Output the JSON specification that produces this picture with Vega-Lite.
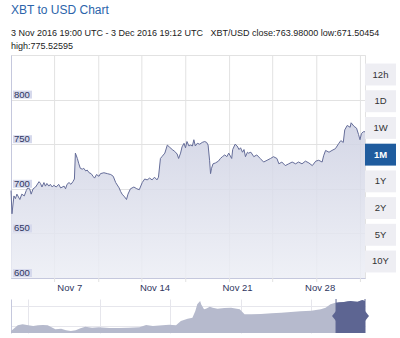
{
  "$schema": "https://vega.github.io/schema/vega-lite/v6.json",
  "padding": {"left": 8, "top": 4, "right": 0, "bottom": 0},
  "background": "#ffffff",
  "config": {"font": "Liberation Sans", "view": {"stroke": null}},
  "title": {
    "text": "XBT to USD Chart",
    "subtitle": ["3 Nov 2016 19:00 UTC - 3 Dec 2016 19:12 UTC\u00a0\u00a0\u00a0XBT/USD close:763.98000 low:671.50454", "high:775.52595"],
    "anchor": "start",
    "frame": "group",
    "fontSize": 12,
    "fontWeight": "normal",
    "color": "#2b64aa",
    "subtitleFontSize": 9,
    "subtitleColor": "#222222",
    "subtitleLineHeight": 12.5,
    "subtitlePadding": 12,
    "offset": 2.5
  },
  "spacing": 6,
  "datasets": {
    "main": [
      {"t": "2016-11-03T19:00Z", "v": 698},
      {"t": "2016-11-03T21:00Z", "v": 672},
      {"t": "2016-11-04T01:00Z", "v": 692},
      {"t": "2016-11-04T04:00Z", "v": 689},
      {"t": "2016-11-04T07:00Z", "v": 694},
      {"t": "2016-11-04T13:00Z", "v": 688},
      {"t": "2016-11-04T17:00Z", "v": 694},
      {"t": "2016-11-04T22:00Z", "v": 692},
      {"t": "2016-11-05T02:00Z", "v": 698},
      {"t": "2016-11-05T05:00Z", "v": 701},
      {"t": "2016-11-05T09:00Z", "v": 700},
      {"t": "2016-11-05T12:00Z", "v": 694},
      {"t": "2016-11-05T16:00Z", "v": 700},
      {"t": "2016-11-05T21:00Z", "v": 702},
      {"t": "2016-11-06T04:00Z", "v": 708},
      {"t": "2016-11-06T07:00Z", "v": 706},
      {"t": "2016-11-06T10:00Z", "v": 702},
      {"t": "2016-11-06T14:00Z", "v": 707},
      {"t": "2016-11-06T17:00Z", "v": 703},
      {"t": "2016-11-06T20:00Z", "v": 706},
      {"t": "2016-11-07T00:00Z", "v": 703},
      {"t": "2016-11-07T03:00Z", "v": 705},
      {"t": "2016-11-07T07:00Z", "v": 702},
      {"t": "2016-11-07T10:00Z", "v": 704},
      {"t": "2016-11-07T15:00Z", "v": 702},
      {"t": "2016-11-07T20:00Z", "v": 705},
      {"t": "2016-11-08T00:00Z", "v": 701},
      {"t": "2016-11-08T07:00Z", "v": 703},
      {"t": "2016-11-08T10:00Z", "v": 700},
      {"t": "2016-11-08T13:00Z", "v": 705},
      {"t": "2016-11-08T17:00Z", "v": 707},
      {"t": "2016-11-08T21:00Z", "v": 705},
      {"t": "2016-11-09T01:00Z", "v": 708},
      {"t": "2016-11-09T04:00Z", "v": 711},
      {"t": "2016-11-09T06:00Z", "v": 740},
      {"t": "2016-11-09T10:00Z", "v": 734},
      {"t": "2016-11-09T13:00Z", "v": 728},
      {"t": "2016-11-09T16:00Z", "v": 723},
      {"t": "2016-11-09T20:00Z", "v": 722},
      {"t": "2016-11-09T23:00Z", "v": 723},
      {"t": "2016-11-10T03:00Z", "v": 720},
      {"t": "2016-11-10T06:00Z", "v": 721},
      {"t": "2016-11-10T10:00Z", "v": 718},
      {"t": "2016-11-10T14:00Z", "v": 717},
      {"t": "2016-11-10T18:00Z", "v": 714},
      {"t": "2016-11-10T21:00Z", "v": 712},
      {"t": "2016-11-11T01:00Z", "v": 716},
      {"t": "2016-11-11T06:00Z", "v": 714},
      {"t": "2016-11-11T09:00Z", "v": 717},
      {"t": "2016-11-11T16:00Z", "v": 718},
      {"t": "2016-11-11T23:00Z", "v": 717},
      {"t": "2016-11-12T06:00Z", "v": 716},
      {"t": "2016-11-12T11:00Z", "v": 714},
      {"t": "2016-11-12T16:00Z", "v": 707},
      {"t": "2016-11-12T23:00Z", "v": 701},
      {"t": "2016-11-13T02:00Z", "v": 697},
      {"t": "2016-11-13T05:00Z", "v": 694},
      {"t": "2016-11-13T10:00Z", "v": 691},
      {"t": "2016-11-13T14:00Z", "v": 688},
      {"t": "2016-11-13T17:00Z", "v": 694},
      {"t": "2016-11-13T22:00Z", "v": 700},
      {"t": "2016-11-14T05:00Z", "v": 702},
      {"t": "2016-11-14T11:00Z", "v": 700},
      {"t": "2016-11-14T16:00Z", "v": 699},
      {"t": "2016-11-14T22:00Z", "v": 707},
      {"t": "2016-11-15T03:00Z", "v": 711},
      {"t": "2016-11-15T08:00Z", "v": 710},
      {"t": "2016-11-15T13:00Z", "v": 712},
      {"t": "2016-11-15T18:00Z", "v": 710},
      {"t": "2016-11-15T23:00Z", "v": 713},
      {"t": "2016-11-16T04:00Z", "v": 710},
      {"t": "2016-11-16T07:00Z", "v": 713},
      {"t": "2016-11-16T11:00Z", "v": 734},
      {"t": "2016-11-16T14:00Z", "v": 736},
      {"t": "2016-11-16T20:00Z", "v": 740},
      {"t": "2016-11-17T01:00Z", "v": 749},
      {"t": "2016-11-17T05:00Z", "v": 747},
      {"t": "2016-11-17T11:00Z", "v": 744},
      {"t": "2016-11-17T16:00Z", "v": 742},
      {"t": "2016-11-17T21:00Z", "v": 739},
      {"t": "2016-11-18T00:00Z", "v": 734},
      {"t": "2016-11-18T04:00Z", "v": 740},
      {"t": "2016-11-18T07:00Z", "v": 747},
      {"t": "2016-11-18T11:00Z", "v": 751},
      {"t": "2016-11-18T14:00Z", "v": 746},
      {"t": "2016-11-18T17:00Z", "v": 753},
      {"t": "2016-11-18T21:00Z", "v": 748},
      {"t": "2016-11-19T00:00Z", "v": 749},
      {"t": "2016-11-19T04:00Z", "v": 748},
      {"t": "2016-11-19T07:00Z", "v": 755},
      {"t": "2016-11-19T10:00Z", "v": 748},
      {"t": "2016-11-19T14:00Z", "v": 751},
      {"t": "2016-11-19T19:00Z", "v": 750},
      {"t": "2016-11-20T00:00Z", "v": 752},
      {"t": "2016-11-20T05:00Z", "v": 753},
      {"t": "2016-11-20T09:00Z", "v": 752},
      {"t": "2016-11-20T12:00Z", "v": 749},
      {"t": "2016-11-20T15:00Z", "v": 732},
      {"t": "2016-11-20T17:00Z", "v": 717},
      {"t": "2016-11-20T19:00Z", "v": 723},
      {"t": "2016-11-20T22:00Z", "v": 728},
      {"t": "2016-11-21T03:00Z", "v": 729},
      {"t": "2016-11-21T09:00Z", "v": 731},
      {"t": "2016-11-21T13:00Z", "v": 734},
      {"t": "2016-11-21T17:00Z", "v": 736},
      {"t": "2016-11-21T22:00Z", "v": 738},
      {"t": "2016-11-22T02:00Z", "v": 736},
      {"t": "2016-11-22T06:00Z", "v": 740},
      {"t": "2016-11-22T12:00Z", "v": 734},
      {"t": "2016-11-22T14:00Z", "v": 744},
      {"t": "2016-11-22T19:00Z", "v": 750},
      {"t": "2016-11-22T23:00Z", "v": 748},
      {"t": "2016-11-23T03:00Z", "v": 744},
      {"t": "2016-11-23T06:00Z", "v": 746},
      {"t": "2016-11-23T10:00Z", "v": 741},
      {"t": "2016-11-23T13:00Z", "v": 744},
      {"t": "2016-11-23T16:00Z", "v": 736},
      {"t": "2016-11-23T20:00Z", "v": 741},
      {"t": "2016-11-23T22:00Z", "v": 740},
      {"t": "2016-11-24T03:00Z", "v": 741},
      {"t": "2016-11-24T09:00Z", "v": 736},
      {"t": "2016-11-24T15:00Z", "v": 738},
      {"t": "2016-11-24T22:00Z", "v": 734},
      {"t": "2016-11-25T05:00Z", "v": 730},
      {"t": "2016-11-25T12:00Z", "v": 732},
      {"t": "2016-11-25T19:00Z", "v": 734},
      {"t": "2016-11-26T01:00Z", "v": 736},
      {"t": "2016-11-26T08:00Z", "v": 734},
      {"t": "2016-11-26T12:00Z", "v": 728},
      {"t": "2016-11-26T18:00Z", "v": 730},
      {"t": "2016-11-27T01:00Z", "v": 726},
      {"t": "2016-11-27T08:00Z", "v": 728},
      {"t": "2016-11-27T15:00Z", "v": 730},
      {"t": "2016-11-27T22:00Z", "v": 728},
      {"t": "2016-11-28T04:00Z", "v": 730},
      {"t": "2016-11-28T11:00Z", "v": 728},
      {"t": "2016-11-28T18:00Z", "v": 731},
      {"t": "2016-11-29T01:00Z", "v": 729},
      {"t": "2016-11-29T08:00Z", "v": 726},
      {"t": "2016-11-29T15:00Z", "v": 731},
      {"t": "2016-11-29T21:00Z", "v": 732},
      {"t": "2016-11-30T04:00Z", "v": 730},
      {"t": "2016-11-30T07:00Z", "v": 737},
      {"t": "2016-11-30T11:00Z", "v": 743},
      {"t": "2016-11-30T18:00Z", "v": 741},
      {"t": "2016-12-01T00:00Z", "v": 743},
      {"t": "2016-12-01T07:00Z", "v": 745},
      {"t": "2016-12-01T14:00Z", "v": 751},
      {"t": "2016-12-01T18:00Z", "v": 754},
      {"t": "2016-12-01T23:00Z", "v": 752},
      {"t": "2016-12-02T02:00Z", "v": 766},
      {"t": "2016-12-02T07:00Z", "v": 771},
      {"t": "2016-12-02T13:00Z", "v": 769},
      {"t": "2016-12-02T15:00Z", "v": 774},
      {"t": "2016-12-02T21:00Z", "v": 770},
      {"t": "2016-12-03T02:00Z", "v": 768},
      {"t": "2016-12-03T06:00Z", "v": 761},
      {"t": "2016-12-03T09:00Z", "v": 755},
      {"t": "2016-12-03T12:00Z", "v": 762},
      {"t": "2016-12-03T16:00Z", "v": 764},
      {"t": "2016-12-03T19:12Z", "v": 763.98}
    ],
    "xgrid": [
      {"t": "2016-11-07T11:42Z"},
      {"t": "2016-11-11T05:30Z"},
      {"t": "2016-11-14T21:12Z"},
      {"t": "2016-11-18T14:30Z"},
      {"t": "2016-11-22T07:42Z"},
      {"t": "2016-11-25T23:24Z"},
      {"t": "2016-11-29T17:06Z"},
      {"t": "2016-12-03T09:54Z"}
    ],
    "ylab": [{"v": 600}, {"v": 650}, {"v": 700}, {"v": 750}, {"v": 800}],
    "buttons": [
      {"b": "12h"}, {"b": "1D"}, {"b": "1W"}, {"b": "1M"},
      {"b": "1Y"}, {"b": "2Y"}, {"b": "5Y"}, {"b": "10Y"}
    ],
    "nav": [
      {"t": "2015-12-03", "v": 376},
      {"t": "2015-12-07", "v": 419},
      {"t": "2015-12-10", "v": 450},
      {"t": "2015-12-15", "v": 463},
      {"t": "2015-12-21", "v": 450},
      {"t": "2015-12-26", "v": 441},
      {"t": "2015-12-31", "v": 450},
      {"t": "2016-01-05", "v": 454},
      {"t": "2016-01-10", "v": 450},
      {"t": "2016-01-15", "v": 419},
      {"t": "2016-01-18", "v": 398},
      {"t": "2016-01-24", "v": 406},
      {"t": "2016-01-29", "v": 385},
      {"t": "2016-02-03", "v": 376},
      {"t": "2016-02-08", "v": 385},
      {"t": "2016-02-13", "v": 411},
      {"t": "2016-02-18", "v": 432},
      {"t": "2016-02-25", "v": 419},
      {"t": "2016-03-03", "v": 424},
      {"t": "2016-03-14", "v": 415},
      {"t": "2016-03-24", "v": 415},
      {"t": "2016-04-03", "v": 419},
      {"t": "2016-04-14", "v": 424},
      {"t": "2016-04-21", "v": 454},
      {"t": "2016-04-28", "v": 441},
      {"t": "2016-05-08", "v": 450},
      {"t": "2016-05-15", "v": 457},
      {"t": "2016-05-22", "v": 450},
      {"t": "2016-05-27", "v": 505},
      {"t": "2016-06-03", "v": 535},
      {"t": "2016-06-08", "v": 548},
      {"t": "2016-06-11", "v": 635},
      {"t": "2016-06-13", "v": 721},
      {"t": "2016-06-16", "v": 764},
      {"t": "2016-06-17", "v": 721},
      {"t": "2016-06-20", "v": 657},
      {"t": "2016-06-22", "v": 664},
      {"t": "2016-06-26", "v": 690},
      {"t": "2016-06-29", "v": 677},
      {"t": "2016-07-04", "v": 664},
      {"t": "2016-07-11", "v": 674},
      {"t": "2016-07-18", "v": 677},
      {"t": "2016-07-27", "v": 657},
      {"t": "2016-08-01", "v": 592},
      {"t": "2016-08-08", "v": 592},
      {"t": "2016-08-18", "v": 596},
      {"t": "2016-08-29", "v": 605},
      {"t": "2016-09-08", "v": 613},
      {"t": "2016-09-18", "v": 622},
      {"t": "2016-09-28", "v": 631},
      {"t": "2016-10-09", "v": 639},
      {"t": "2016-10-19", "v": 657},
      {"t": "2016-10-24", "v": 677},
      {"t": "2016-10-29", "v": 721},
      {"t": "2016-11-03", "v": 742},
      {"t": "2016-11-12", "v": 751},
      {"t": "2016-11-19", "v": 764},
      {"t": "2016-11-26", "v": 755},
      {"t": "2016-12-01", "v": 777},
      {"t": "2016-12-03T19:12Z", "v": 764}
    ],
    "navsel": [
      {"t": "2016-11-03T19:00Z", "v": 743},
      {"t": "2016-11-07", "v": 747},
      {"t": "2016-11-12", "v": 751},
      {"t": "2016-11-16", "v": 760},
      {"t": "2016-11-19", "v": 764},
      {"t": "2016-11-23", "v": 757},
      {"t": "2016-11-26", "v": 755},
      {"t": "2016-12-01", "v": 777},
      {"t": "2016-12-03T19:12Z", "v": 764}
    ],
    "navedge": [{"t": "2016-11-03T19:00Z"}, {"t": "2016-12-03T19:12Z"}]
  },
  "vconcat": [
    {
      "spacing": 0,
      "bounds": "flush",
      "hconcat": [
        {
          "width": 354,
          "height": 223,
          "view": {"stroke": "#e2e2e2"},
          "layer": [
            {
              "data": {"name": "xgrid"},
              "mark": {"type": "rule", "color": "#e2e2e2", "strokeWidth": 1},
              "encoding": {
                "x": {"field": "t", "type": "temporal"},
                "y": {"datum": 595.5, "scale": {"domain": [600, 850]}},
                "y2": {"datum": 850}
              }
            },
            {
              "data": {"name": "main"},
              "mark": {
                "type": "area",
                "fillOpacity": 0.85,
                "color": {
                  "gradient": "linear", "x1": 0, "y1": 0, "x2": 0, "y2": 1,
                  "stops": [{"offset": 0, "color": "#cdd0e2"}, {"offset": 1, "color": "#eceef5"}]
                },
                "line": {"color": "#656d99", "strokeWidth": 1}
              },
              "encoding": {
                "x": {
                  "field": "t", "type": "temporal",
                  "scale": {"type": "utc", "domain": [
                    {"year": 2016, "month": 11, "date": 3, "hours": 19, "utc": true},
                    {"year": 2016, "month": 12, "date": 3, "hours": 19, "minutes": 12, "utc": true}
                  ]},
                  "axis": {
                    "values": [
                      {"year": 2016, "month": 11, "date": 7, "utc": true},
                      {"year": 2016, "month": 11, "date": 14, "utc": true},
                      {"year": 2016, "month": 11, "date": 21, "utc": true},
                      {"year": 2016, "month": 11, "date": 28, "utc": true}
                    ],
                    "labelExpr": "utcFormat(datum.value, '%b %-d')",
                    "labelAlign": "left",
                    "labelOffset": 8,
                    "labelPadding": 4,
                    "labelFontSize": 9.5,
                    "labelColor": "#2f3660",
                    "ticks": false,
                    "grid": false,
                    "domainColor": "#c5c8dd",
                    "title": null
                  }
                },
                "y": {
                  "field": "v", "type": "quantitative",
                  "scale": {"domain": [600, 850]},
                  "axis": {
                    "values": [600, 650, 700, 750, 800, 850],
                    "labels": false, "ticks": false, "grid": true,
                    "minExtent": 0, "maxExtent": 0,
                    "gridColor": "#e2e2e2", "domainColor": "#c5c8dd", "title": null
                  }
                },
                "y2": {"datum": 600}
              }
            },
            {
              "data": {"name": "ylab"},
              "mark": {"type": "point", "shape": "M-1,-0.42L1,-0.42L1,0.42L-1,0.42Z", "size": 361, "filled": true, "opacity": 1, "color": "#d6d9ec", "xOffset": 11.5, "yOffset": -5},
              "encoding": {
                "x": {"datum": {"year": 2016, "month": 11, "date": 3, "hours": 19, "utc": true}, "type": "temporal"},
                "y": {"field": "v", "type": "quantitative", "scale": {"domain": [600, 850]}}
              }
            },
            {
              "data": {"name": "ylab"},
              "mark": {"type": "text", "align": "left", "baseline": "alphabetic", "dx": 3, "dy": -2, "fontSize": 9.5, "color": "#2f3660"},
              "encoding": {
                "x": {"datum": {"year": 2016, "month": 11, "date": 3, "hours": 19, "utc": true}, "type": "temporal"},
                "y": {"field": "v", "type": "quantitative", "scale": {"domain": [600, 850]}},
                "text": {"field": "v", "type": "quantitative"}
              }
            }
          ]
        },
        {
          "width": 31,
          "height": 226,
          "data": {"name": "buttons"},
          "encoding": {
            "y": {
              "field": "b", "type": "nominal",
              "sort": ["12h", "1D", "1W", "1M", "1Y", "2Y", "5Y", "10Y"],
              "scale": {"paddingInner": 0.18, "paddingOuter": 0.32},
              "axis": null
            }
          },
          "layer": [
            {
              "mark": {"type": "rect"},
              "encoding": {
                "color": {"condition": {"test": "datum.b === '1M'", "value": "#1f5c9e"}, "value": "#eeeef3"}
              }
            },
            {
              "transform": [{"filter": "datum.b !== '1M'"}],
              "mark": {"type": "text", "fontSize": 9.5, "color": "#333333"},
              "encoding": {"text": {"field": "b"}}
            },
            {
              "transform": [{"filter": "datum.b === '1M'"}],
              "mark": {"type": "text", "fontSize": 9.5, "color": "#ffffff", "fontWeight": "bold"},
              "encoding": {"text": {"field": "b"}}
            }
          ]
        }
      ]
    },
    {
      "width": 354,
      "height": 34,
      "layer": [
        {
          "data": {"name": "nav"},
          "mark": {"type": "area", "color": "#b6bacd"},
          "encoding": {
            "x": {
              "field": "t", "type": "temporal",
              "scale": {"type": "utc", "domain": [
                {"year": 2015, "month": 12, "date": 3, "utc": true},
                {"year": 2016, "month": 12, "date": 3, "hours": 19, "minutes": 12, "utc": true}
              ]},
              "axis": {
                "values": [
                  {"year": 2015, "month": 12, "date": 21, "utc": true},
                  {"year": 2016, "month": 1, "date": 9, "utc": true},
                  {"year": 2016, "month": 1, "date": 27, "utc": true},
                  {"year": 2016, "month": 2, "date": 14, "utc": true},
                  {"year": 2016, "month": 3, "date": 4, "utc": true},
                  {"year": 2016, "month": 3, "date": 22, "utc": true},
                  {"year": 2016, "month": 4, "date": 9, "utc": true},
                  {"year": 2016, "month": 4, "date": 27, "utc": true},
                  {"year": 2016, "month": 5, "date": 16, "utc": true},
                  {"year": 2016, "month": 6, "date": 3, "utc": true},
                  {"year": 2016, "month": 6, "date": 21, "utc": true},
                  {"year": 2016, "month": 7, "date": 10, "utc": true},
                  {"year": 2016, "month": 7, "date": 28, "utc": true},
                  {"year": 2016, "month": 8, "date": 15, "utc": true},
                  {"year": 2016, "month": 9, "date": 3, "utc": true},
                  {"year": 2016, "month": 9, "date": 21, "utc": true},
                  {"year": 2016, "month": 10, "date": 9, "utc": true},
                  {"year": 2016, "month": 10, "date": 27, "utc": true},
                  {"year": 2016, "month": 11, "date": 15, "utc": true}
                ],
                "grid": true, "gridColor": "#e6e6ec", "labels": false, "ticks": false, "domain": false, "title": null,
                "minExtent": 0, "maxExtent": 0
              }
            },
            "y": {
              "field": "v", "type": "quantitative",
              "scale": {"domain": [350, 790]},
              "axis": {
                "values": [441, 527, 613, 699],
                "grid": true, "gridColor": "#e6e6ec", "labels": false, "ticks": false,
                "minExtent": 0, "maxExtent": 0,
                "domainColor": "#c5c8dd", "title": null
              }
            },
            "y2": {"datum": 350}
          }
        },
        {
          "data": {"name": "navsel"},
          "mark": {"type": "area", "color": "#5d6592"},
          "encoding": {
            "x": {"field": "t", "type": "temporal"},
            "y": {"field": "v", "type": "quantitative", "scale": {"domain": [350, 790]}},
            "y2": {"datum": 350}
          }
        },
        {
          "data": {"name": "navedge"},
          "mark": {"type": "rule", "color": "#5d6592", "strokeWidth": 1},
          "encoding": {"x": {"field": "t", "type": "temporal"}}
        },
        {
          "data": {"name": "navedge"},
          "mark": {"type": "point", "shape": "M-1,0L0,-1.25L1,0L0,1.25Z", "filled": true, "size": 64, "color": "#5d6592", "opacity": 1},
          "encoding": {
            "x": {"field": "t", "type": "temporal"},
            "y": {"datum": 570, "scale": {"domain": [350, 790]}}
          }
        }
      ]
    }
  ]
}
